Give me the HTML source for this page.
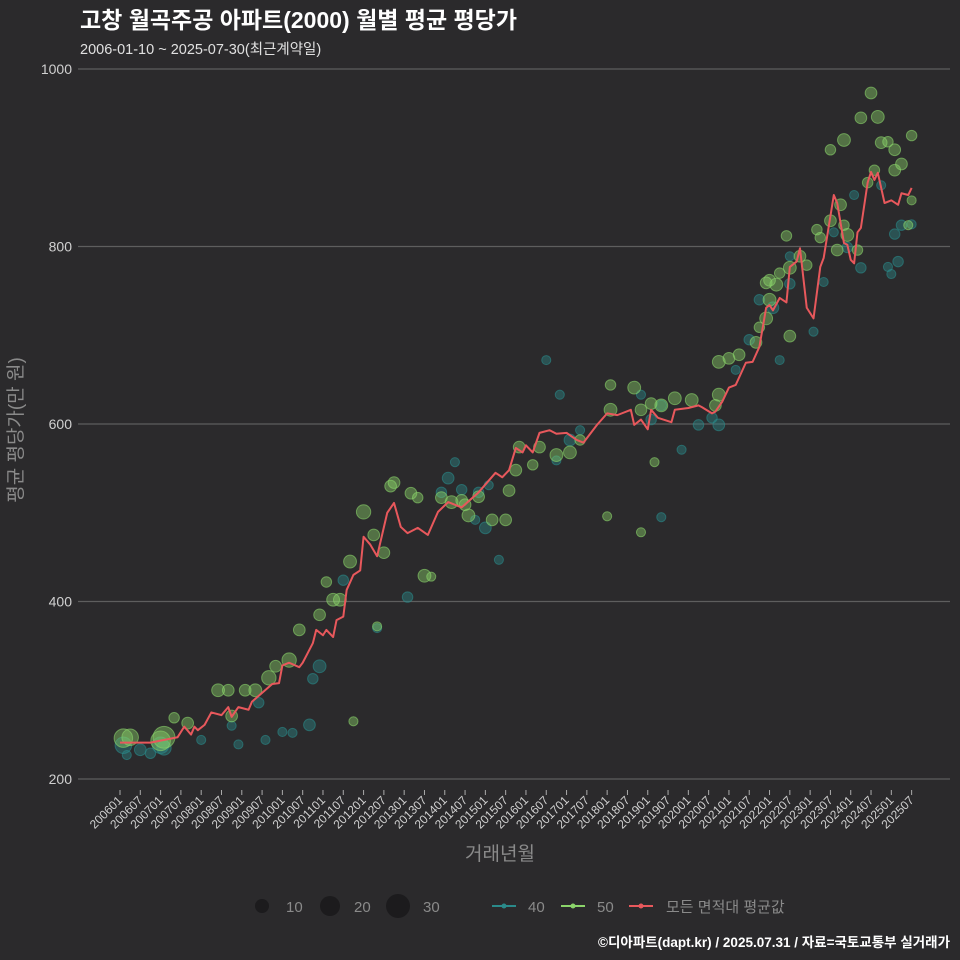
<!DOCTYPE html>
<html><head><meta charset="utf-8"><style>
body{margin:0;background:#2b2a2c;}
svg{display:block;font-family:"Liberation Sans","Noto Sans CJK KR",sans-serif;}
</style></head><body>
<svg id="chart" width="960" height="960" viewBox="0 0 960 960">
<rect width="960" height="960" fill="#2b2a2c"/>
<text x="80" y="28" fill="#ffffff" font-size="23" font-weight="bold">고창 월곡주공 아파트(2000) 월별 평균 평당가</text>
<text x="80" y="54" fill="#e0e0e0" font-size="14.5">2006-01-10 ~ 2025-07-30(최근계약일)</text>
<g id="grid"></g>
<g id="yaxis"></g>
<g id="xaxis"></g>
<g id="s40"></g>
<g id="s50"></g>
<g id="avg"></g>
<text transform="translate(22,430) rotate(-90)" text-anchor="middle" fill="#8a8a8a" font-size="19">평균 평당가(만 원)</text>
<text x="500" y="860" text-anchor="middle" fill="#8a8a8a" font-size="19">거래년월</text>
<g>
<circle cx="262" cy="906" r="7" fill="#1c1b1d"/>
<text x="286" y="912" fill="#8a8a8a" font-size="15">10</text>
<circle cx="330" cy="906" r="10" fill="#1c1b1d"/>
<text x="354" y="912" fill="#8a8a8a" font-size="15">20</text>
<circle cx="398" cy="906" r="12" fill="#1c1b1d"/>
<text x="423" y="912" fill="#8a8a8a" font-size="15">30</text>
<line x1="492" y1="906" x2="516" y2="906" stroke="#2a8a8a" stroke-width="2"/>
<circle cx="504" cy="906" r="2.5" fill="#2a8a8a"/>
<text x="528" y="912" fill="#8a8a8a" font-size="15">40</text>
<line x1="561" y1="906" x2="585" y2="906" stroke="#8bd46a" stroke-width="2"/>
<circle cx="573" cy="906" r="2.5" fill="#8bd46a"/>
<text x="597" y="912" fill="#8a8a8a" font-size="15">50</text>
<line x1="629" y1="906" x2="653" y2="906" stroke="#e8585c" stroke-width="2"/>
<circle cx="641" cy="906" r="2.5" fill="#e8585c"/>
<text x="666" y="912" fill="#8a8a8a" font-size="15">모든 면적대 평균값</text>
</g>
<text x="950" y="947" text-anchor="end" fill="#ffffff" font-size="13.5" font-weight="bold">©디아파트(dapt.kr) / 2025.07.31 / 자료=국토교통부 실거래가</text>
</svg>
<script>
const yTicks=[200,400,600,800,1000];
const xTickLabels=[];for(let y=2006;y<=2025;y++){xTickLabels.push(y+"01");xTickLabels.push(y+"07");}
// average line: [month index from 2006-01, value]
const avgMonths=[0,9,17,19,21,22,23,25,27,30,32,33,35,38,39,42,45,47,48,50,53,54,57,58,60,61,63,64,66,67,69,71,72,74,76,79,81,83,85,88,91,94,97,101,106,111,113,115,117,119,120,122,124,127,129,132,135,137,141,144,147,151,152,154,156,157,159,163,164,168,171,172,175,176,178,180,182,185,187,189,191,192,193,195,197,198,200,201,203,205,207,208,211,212,214,215,216,217,218,219,221,222,223,224,226,228,230,231,233,234];
const avgValues=[241,241,247,259,250,259,255,261,275,272,281,270,281,278,287,297,307,308,328,331,326,331,353,368,362,368,360,379,383,413,430,435,473,464,451,500,511,484,477,483,475,501,512,506,523,545,540,548,573,568,576,568,590,593,589,590,582,579,599,612,610,616,599,605,594,616,607,602,616,618,621,619,612,614,625,641,644,669,670,687,731,734,728,742,737,777,783,798,731,719,777,787,858,849,804,802,785,781,816,821,872,884,875,883,849,852,847,860,858,866];
// [month, value, count]
const s50=[[1,246,25],[3,247,20],[13,247,35],[12,243,28],[16,269,8],[20,263,10],[29,300,12],[32,300,10],[33,271,10],[37,300,10],[40,300,12],[44,314,15],[46,327,10],[50,334,15],[53,368,10],[59,385,10],[61,422,8],[63,402,12],[65,402,12],[68,445,12],[72,501,15],[75,475,10],[78,455,10],[80,530,10],[81,534,10],[86,522,10],[90,429,12],[88,517,8],[95,517,10],[98,512,12],[101,514,10],[103,497,12],[106,518,10],[110,492,10],[114,492,10],[117,548,10],[118,574,10],[122,554,8],[124,574,10],[129,565,12],[133,568,12],[136,582,8],[145,616,12],[145,644,8],[152,641,12],[154,616,10],[157,623,10],[160,621,12],[164,629,12],[169,627,12],[176,621,10],[177,633,12],[177,670,12],[180,674,10],[183,678,10],[188,692,10],[189,709,8],[192,762,10],[192,740,12],[194,757,12],[191,759,10],[195,770,8],[197,812,8],[198,776,12],[191,719,12],[198,699,10],[201,789,10],[203,779,8],[206,819,8],[210,909,8],[212,796,10],[214,920,12],[213,847,10],[215,813,12],[210,829,10],[219,945,10],[221,872,8],[222,973,10],[224,946,12],[223,886,8],[225,917,10],[227,918,8],[229,909,10],[229,886,10],[231,893,10],[234,925,8],[214,824,8],[218,796,8],[207,810,8],[234,852,6],[233,824,6],[115,525,10],[102,509,10],[92,428,6],[144,496,6],[158,557,6],[154,478,6],[76,372,6],[69,265,6]];
const s40=[[1,238,20],[6,233,10],[12,238,20],[13,235,15],[2,227,6],[9,229,8],[24,244,6],[33,260,6],[35,239,6],[41,286,8],[43,244,6],[48,253,6],[51,252,6],[56,261,10],[59,327,12],[57,313,8],[66,424,8],[76,370,6],[85,405,8],[95,523,8],[97,539,10],[99,557,6],[101,526,8],[105,492,6],[106,523,8],[109,531,6],[112,447,6],[108,483,10],[126,672,6],[130,633,6],[129,559,6],[133,582,10],[136,593,6],[160,495,6],[154,633,6],[157,605,8],[160,621,8],[166,571,6],[171,599,8],[175,607,8],[177,599,10],[182,661,6],[186,695,8],[189,740,8],[193,731,10],[198,758,8],[195,672,6],[198,789,6],[205,704,6],[208,760,6],[211,816,6],[215,799,8],[217,858,6],[219,776,8],[225,869,6],[227,777,6],[228,769,6],[229,814,8],[230,783,8],[231,824,8],[234,825,6]];
const NS="http://www.w3.org/2000/svg";
const X=m=>120+m*3.383;
const Y=v=>779-(v-200)*0.8875;
const R=n=>Math.sqrt(n)*1.85;
function mk(tag,attrs,parent){const e=document.createElementNS(NS,tag);for(const k in attrs)e.setAttribute(k,attrs[k]);parent.appendChild(e);return e;}
const grid=document.getElementById('grid'),ya=document.getElementById('yaxis'),xa=document.getElementById('xaxis');
yTicks.forEach(t=>{
 const l=mk('line',{x1:78,x2:950,y1:Y(t),y2:Y(t),stroke:'#5e5e5e','stroke-width':1.2},grid);
 
 
 const tx=mk('text',{x:72,y:Y(t)+5,'text-anchor':'end',fill:'#d0d0d0','font-size':14},ya);
 tx.textContent=t;
 
 
});
xTickLabels.forEach((lab,i)=>{
 const x=X(i*6);
 const tk=mk('line',{x1:x,x2:x,y1:790,y2:795,stroke:'#aaaaaa','stroke-width':1},xa);
 
 
 const t=mk('text',{transform:`translate(${x+3},${801}) rotate(-45)`,'text-anchor':'end',fill:'#d0d0d0','font-size':12},xa);
 t.textContent=lab;
 
 
});
function bubbles(data,g,col){data.forEach(d=>{
 const c=mk('circle',{cx:X(d[0]),cy:Y(d[1]),r:R(d[2]),fill:col,'fill-opacity':0.42,stroke:col,'stroke-opacity':0.6,'stroke-width':1},g);
 
 
});}
bubbles(s40,document.getElementById('s40'),'#2a8a8a');
bubbles(s50,document.getElementById('s50'),'#8bd46a');
const p=mk('polyline',{points:avgMonths.map((m,i)=>X(m)+','+Y(avgValues[i])).join(' '),fill:'none',stroke:'#e8585c','stroke-width':2,'stroke-linejoin':'round'},document.getElementById('avg'));


</script>
</body></html>
